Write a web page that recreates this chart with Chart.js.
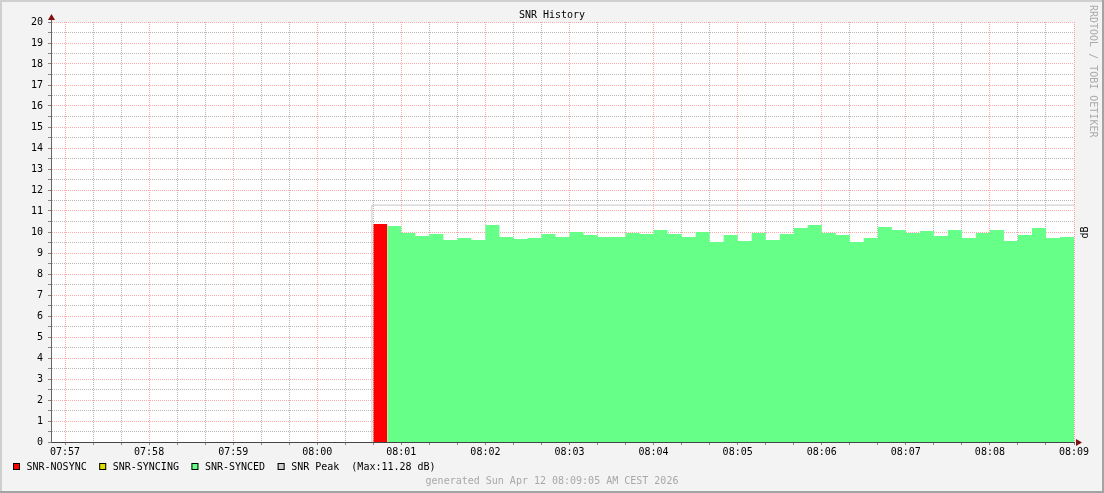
<!DOCTYPE html>
<html>
<head>
<meta charset="utf-8">
<title>SNR History</title>
<script src="https://cdn.jsdelivr.net/npm/chart.js@4/dist/chart.umd.min.js"></script>
<style>
  html, body { margin: 0; padding: 0; background: #f3f3f3; }
  canvas { display: block; }
</style>
</head>
<body>
<canvas id="snrChart" width="1104" height="493"></canvas>
<script>
// x values are seconds after 07:57:00, one RRD step = 10 s
const minuteLabels = ['07:57', '07:58', '07:59', '08:00', '08:01', '08:02', '08:03',
  '08:04', '08:05', '08:06', '08:07', '08:08', '08:09']
const stepSeconds = 10
const xMin = -10   // 07:56:50
const xMax = 720   // 08:09:00

const nosyncStart = 220  // 08:00:40
const nosyncValues = [10.38]

const syncingStart = 230
const syncingValues = []

const syncedStart = 230  // 08:00:50
const syncedValues = [
  10.29, 9.95, 9.81, 9.90, 9.62, 9.71, 9.62, 10.33, 9.76, 9.67,
  9.71, 9.90, 9.76, 10.00, 9.86, 9.76, 9.76, 9.95, 9.90, 10.10,
  9.90, 9.76, 10.00, 9.52, 9.86, 9.57, 9.95, 9.62, 9.90, 10.19,
  10.33, 9.95, 9.86, 9.52, 9.71, 10.24, 10.10, 9.95, 10.05, 9.81,
  10.10, 9.71, 9.95, 10.10, 9.57, 9.86, 10.19, 9.71, 9.76
]

const peakStart = 219
const peakMax = 11.28

const legendNames = ['SNR-NOSYNC', 'SNR-SYNCING', 'SNR-SYNCED', 'SNR Peak']
const legendColors = ['#ff0000', '#dddd00', '#66ff88', '#cccccc']

const FONT = "'DejaVu Sans Mono', monospace"
const majorGrid = 'rgba(255, 0, 0, 0.33)'
const minorGrid = 'rgba(110, 110, 110, 0.5)'

// one point per sample start, plus a closing point at the end of the last step
const stepSeries = (start, values) => {
  const pts = values.map((v, i) => ({ x: start + i * stepSeconds, y: v }))
  if (values.length) pts.push({ x: start + values.length * stepSeconds, y: values[values.length - 1] })
  return pts
}

const areaSet = (label, start, values, color) => ({
  label,
  data: stepSeries(start, values),
  stepped: 'before',
  fill: 'origin',
  backgroundColor: color,
  borderColor: 'rgba(0,0,0,0)',
  borderWidth: 0
})

// frame, plot background, arrows, title, legend and side texts (rrdtool look)
const rrdDecor = {
  id: 'rrdDecor',
  beforeDraw(chart) {
    const { ctx, width, height, chartArea: a } = chart
    ctx.save()
    ctx.fillStyle = '#f3f3f3'
    ctx.fillRect(0, 0, width, height)
    ctx.fillStyle = '#cfcfcf'
    ctx.fillRect(0, 0, width, 2)
    ctx.fillRect(0, 0, 2, height)
    ctx.fillStyle = '#a3a3a3'
    ctx.fillRect(0, height - 2, width, 2)
    ctx.fillRect(width - 2, 0, 2, height)
    ctx.fillStyle = '#ffffff'
    ctx.fillRect(a.left, a.top, a.right - a.left, a.bottom - a.top)
    ctx.restore()
  },
  afterDraw(chart) {
    const { ctx, chartArea: a } = chart
    ctx.save()
    ctx.font = '10px ' + FONT

    // axis arrows
    ctx.fillStyle = '#7f1010'
    ctx.strokeStyle = '#666'
    ctx.beginPath(); ctx.moveTo(a.left + 0.5, a.top); ctx.lineTo(a.left + 0.5, a.top - 3); ctx.stroke()
    ctx.beginPath()
    ctx.moveTo(a.left + 0.5, a.top - 8); ctx.lineTo(a.left - 3, a.top - 2); ctx.lineTo(a.left + 4, a.top - 2)
    ctx.fill()
    ctx.beginPath()
    ctx.moveTo(a.right + 8, a.bottom + 0.5); ctx.lineTo(a.right + 2, a.bottom - 3); ctx.lineTo(a.right + 2, a.bottom + 4)
    ctx.fill()

    // title
    ctx.fillStyle = '#000'
    ctx.textAlign = 'center'
    ctx.textBaseline = 'middle'
    ctx.fillText('SNR History', 552, 15)

    // legend row
    let x = 13
    ctx.textAlign = 'left'
    legendNames.forEach((name, i) => {
      ctx.fillStyle = legendColors[i]
      ctx.fillRect(x, 463, 7, 7)
      ctx.strokeStyle = '#000'
      ctx.lineWidth = 1
      ctx.strokeRect(x + 0.5, 463.5, 6, 6)
      const text = i === 3 ? name + '  (Max:' + peakMax.toFixed(2) + ' dB)' : name
      ctx.fillStyle = '#000'
      ctx.fillText(text, x + 13.5, 467)
      x = x + 13.5 + ctx.measureText(text).width + 12.5
    })

    // footer
    ctx.fillStyle = '#a8a8a8'
    ctx.textAlign = 'center'
    ctx.fillText('generated Sun Apr 12 08:09:05 AM CEST 2026', 552, 481)

    // watermark on the right edge, top to bottom
    ctx.save()
    ctx.translate(1093, 5)
    ctx.rotate(Math.PI / 2)
    ctx.fillStyle = '#ababab'
    ctx.textAlign = 'left'
    ctx.fillText('RRDTOOL / TOBI OETIKER', 0, 0)
    ctx.restore()

    // right axis unit label, bottom to top
    ctx.save()
    ctx.translate(1085, 232.5)
    ctx.rotate(-Math.PI / 2)
    ctx.fillStyle = '#000'
    ctx.textAlign = 'center'
    ctx.fillText('dB', 0, 0)
    ctx.restore()

    ctx.restore()
  }
}

Chart.defaults.font.family = FONT
Chart.defaults.font.size = 10
Chart.defaults.color = '#000'

new Chart(document.getElementById('snrChart'), {
  type: 'line',
  data: {
    datasets: [
      {
        label: 'SNR Peak',
        data: [{ x: peakStart, y: 0 }, { x: peakStart, y: peakMax }, { x: xMax, y: peakMax }],
        borderColor: '#c8c8c8',
        borderWidth: 1,
        fill: false
      },
      areaSet('SNR-NOSYNC', nosyncStart, nosyncValues, legendColors[0]),
      areaSet('SNR-SYNCING', syncingStart, syncingValues, legendColors[1]),
      areaSet('SNR-SYNCED', syncedStart, syncedValues, legendColors[2])
    ]
  },
  options: {
    responsive: false,
    animation: false,
    events: [],
    layout: { padding: { top: 22, right: 30, bottom: 0, left: 0 } },
    elements: { point: { radius: 0 }, line: { tension: 0 } },
    plugins: {
      legend: { display: false },
      tooltip: { enabled: false },
      title: { display: false }
    },
    scales: {
      x: {
        type: 'linear',
        min: xMin,
        max: xMax,
        z: 1,
        afterFit: s => { s.height = 51 },
        ticks: {
          stepSize: 20,
          includeBounds: false,
          autoSkip: false,
          maxRotation: 0,
          padding: 1,
          color: '#000',
          callback: v => (Math.round(v) % 60 === 0 ? minuteLabels[Math.round(v) / 60] : '')
        },
        grid: {
          color: c => (c.tick && Math.round(c.tick.value) % 60 === 0 ? majorGrid : minorGrid),
          lineWidth: 1,
          tickLength: 3,
          tickColor: '#888',
          tickBorderDash: []
        },
        border: { color: '#444', width: 1, dash: [1, 1] }
      },
      y: {
        min: 0,
        max: 20,
        z: 1,
        afterFit: s => { s.width = 51 },
        ticks: {
          stepSize: 0.5,
          autoSkip: false,
          padding: 5,
          color: '#000',
          callback: v => (Number.isInteger(v) ? String(v) : '')
        },
        grid: {
          color: c => (c.tick && Number.isInteger(c.tick.value) ? majorGrid : minorGrid),
          lineWidth: 1,
          tickLength: 3,
          tickColor: '#888',
          tickBorderDash: []
        },
        border: { color: '#666', width: 1, dash: [1, 1] }
      }
    }
  },
  plugins: [rrdDecor]
})
</script>
</body>
</html>
